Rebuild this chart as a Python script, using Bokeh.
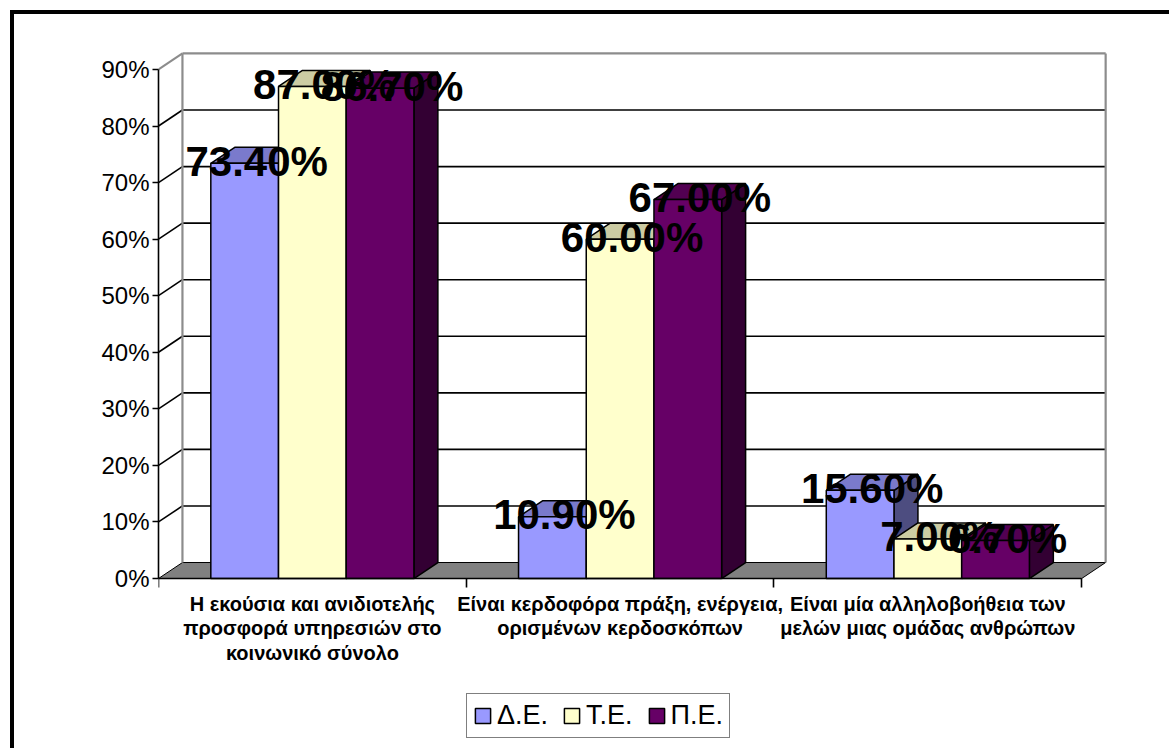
from bokeh.plotting import figure
from bokeh.models import FixedTicker, LinearAxis, Legend, LegendItem, Range1d, ColumnDataSource
from bokeh.embed import file_html
from bokeh.resources import INLINE
from bokeh.core.properties import value

# ---------------- data ----------------
categories = [
    "Η εκούσια και ανιδιοτελής\nπροσφορά υπηρεσιών στο\nκοινωνικό σύνολο",
    "Είναι κερδοφόρα πράξη, ενέργεια,\nορισμένων κερδοσκόπων",
    "Είναι μία αλληλοβοήθεια των\nμελών μιας ομάδας ανθρώπων",
]
series_names = ["Δ.Ε.", "Τ.Ε.", "Π.Ε."]
de_values = [73.4, 10.9, 15.6]
te_values = [87.0, 60.0, 7.0]
pe_values = [86.7, 67.0, 6.7]
y_ticks = [0, 10, 20, 30, 40, 50, 60, 70, 80, 90]
y_tick_labels = ["0%", "10%", "20%", "30%", "40%", "50%", "60%", "70%", "80%", "90%"]

series_values = [de_values, te_values, pe_values]

# ---------------- styles ----------------
FRONT = ["#9999FF", "#FFFFCC", "#660066"]
TOP = ["#7A7ACC", "#CCCCA3", "#520052"]
SIDE = ["#4D4D80", "#808066", "#330033"]
FONT = "Liberation Sans"

# 3D depth (data units) and bar geometry
DX = 24 / 308.33
DY = 16 / 5.656
BAR_OFF = 0.17
BAR_W = 0.22
NCAT = len(categories)
YMAX = y_ticks[-1]

p = figure(
    width=1159, height=738,
    x_range=Range1d(0, NCAT + DX + 0.006), y_range=Range1d(-30.76, 95.12),
    output_backend="svg", toolbar_location=None,
    x_axis_type=None, y_axis_type=None,
    min_border_left=144, min_border_right=66, min_border_top=26, min_border_bottom=0,
)
p.outline_line_color = None
p.background_fill_color = "white"
p.border_fill_color = "white"
p.styles = {"margin-left": "10px", "margin-top": "10px",
            "border-left": "4px solid black", "border-top": "4px solid black"}

# ---- floor ----
p.patch([0, NCAT, NCAT + DX, DX], [0, 0, DY, DY],
        fill_color="#808080", line_color="black", line_width=1)

# ---- gridlines (side wall diagonals + back wall horizontals) ----
grid_vals = [v for v in y_ticks if 0 < v < YMAX]
p.segment(x0=[0] * len(grid_vals), y0=grid_vals,
          x1=[DX] * len(grid_vals), y1=[v + DY for v in grid_vals],
          line_color="black", line_width=1.6)
p.segment(x0=[DX] * len(grid_vals), y0=[v + DY for v in grid_vals],
          x1=[NCAT + DX] * len(grid_vals), y1=[v + DY for v in grid_vals],
          line_color="black", line_width=1.6)

# ---- wall edges (grey) ----
p.segment(x0=[0, DX, DX, NCAT + DX], y0=[YMAX, YMAX + DY, YMAX + DY, DY],
          x1=[DX, NCAT + DX, DX, NCAT + DX], y1=[YMAX + DY, YMAX + DY, DY, YMAX + DY],
          line_color="#8C8C8C", line_width=2.2)

# ---- bars ----
legend_items = []
for j, vals in enumerate(series_values):
    lefts = [i + BAR_OFF + j * BAR_W for i in range(NCAT)]
    rights = [l + BAR_W for l in lefts]
    side_xs = [[r, r + DX, r + DX, r] for r in rights]
    side_ys = [[0, DY, v + DY, v] for v in vals]
    top_xs = [[l, r, r + DX, l + DX] for l, r in zip(lefts, rights)]
    top_ys = [[v, v, v + DY, v + DY] for v in vals]
    p.patches(side_xs, side_ys, fill_color=SIDE[j], line_color="black", line_width=1.5)
    p.patches(top_xs, top_ys, fill_color=TOP[j], line_color="black", line_width=1.5)
    src = ColumnDataSource(dict(left=lefts, right=rights, top=vals, bottom=[0] * NCAT))
    r = p.quad(left="left", right="right", top="top", bottom="bottom", source=src,
               fill_color=FRONT[j], line_color="black", line_width=1.5)
    legend_items.append(LegendItem(label=series_names[j], renderers=[r]))

# ---- data labels ----
for j, vals in enumerate(series_values):
    xs = [i + BAR_OFF + j * BAR_W + BAR_W / 2 + DX / 2 for i in range(NCAT)]
    p.text(x=xs, y=vals, text=[f"{v:.2f}%" for v in vals],
           text_font=value(FONT), text_font_style="bold", text_font_size="42px",
           text_color="black", text_align="center", text_baseline="alphabetic",
           y_offset=-2)

# ---- axes ----
yaxis = LinearAxis(
    ticker=FixedTicker(ticks=y_ticks),
    major_label_overrides={t: l for t, l in zip(y_ticks, y_tick_labels)},
    bounds=(0, YMAX),
    axis_line_color="black", axis_line_width=1.6,
    major_tick_out=6, major_tick_in=0, major_tick_line_width=1.6,
    minor_tick_out=0, minor_tick_in=0,
    major_label_text_font=FONT, major_label_text_font_size="24px",
    major_label_text_color="black", major_label_standoff=3,
)
p.add_layout(yaxis, "left")

cat_pos = [i + 0.5 for i in range(NCAT)]
xaxis = LinearAxis(
    ticker=FixedTicker(ticks=cat_pos, minor_ticks=list(range(NCAT + 1))),
    major_label_overrides={c: t for c, t in zip(cat_pos, categories)},
    bounds=(0, NCAT), fixed_location=0,
    axis_line_color="black", axis_line_width=1.6,
    major_tick_out=0, major_tick_in=0,
    minor_tick_out=9, minor_tick_in=0, minor_tick_line_color="black", minor_tick_line_width=1.6,
    major_label_text_font=FONT, major_label_text_font_size="20px",
    major_label_text_font_style="bold", major_label_text_color="black",
    major_label_text_line_height=1.12, major_label_text_align="center",
    major_label_standoff=5,
)
p.add_layout(xaxis, "below")

legend = Legend(
    items=legend_items, orientation="horizontal", location=(308, 14),
    border_line_color="black", border_line_width=1.6,
    label_text_font=FONT, label_text_font_size="27px", label_text_color="black",
    glyph_width=19, glyph_height=19, label_standoff=5, spacing=14,
    padding=6, margin=0, background_fill_color="white",
)
p.add_layout(legend, "center")

open("out.html", "w").write(file_html(p, INLINE))
